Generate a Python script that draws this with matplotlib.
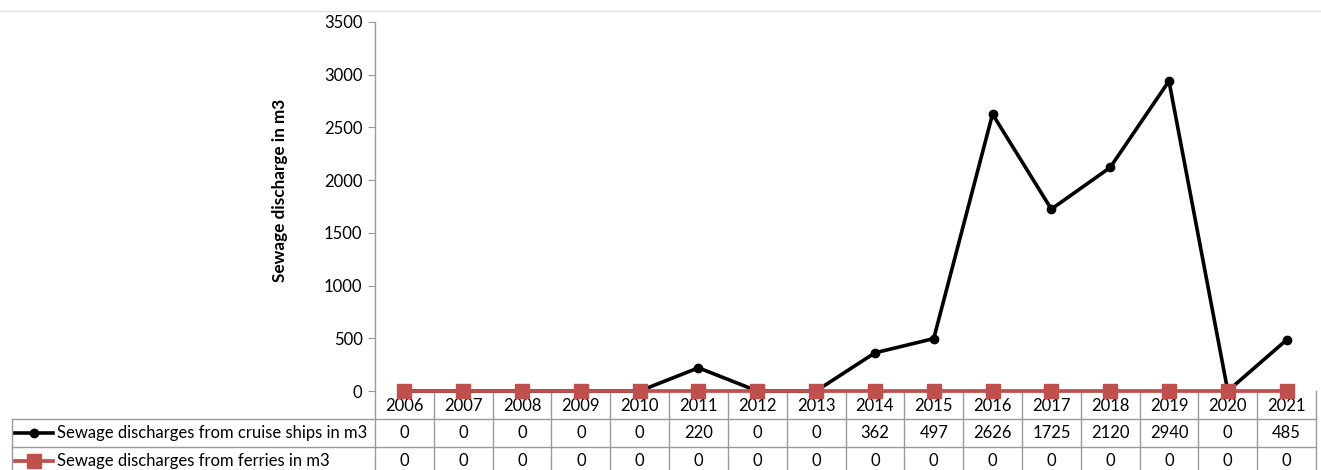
import matplotlib.pyplot as plt
from matplotlib.lines import Line2D
from matplotlib.transforms import blended_transform_factory

plt.rcParams['font.family'] = ['Lato', 'DejaVu Sans']

years = [2006, 2007, 2008, 2009, 2010, 2011, 2012, 2013,
         2014, 2015, 2016, 2017, 2018, 2019, 2020, 2021]
cruise = [0, 0, 0, 0, 0, 220, 0, 0, 362, 497, 2626, 1725, 2120, 2940, 0, 485]
ferries = [0] * 16
series_names = ['Sewage discharges from cruise ships in m3',
                'Sewage discharges from ferries in m3']

W, H = 1321, 470
fig = plt.figure(figsize=(W / 100, H / 100), dpi=100)

# plot area in pixel terms
x0, x1, ytop, ybot = 375, 1316, 22, 391
ax = fig.add_axes([x0 / W, 1 - ybot / H, (x1 - x0) / W, (ybot - ytop) / H])

red = '#C0504D'
grid_c = '#9a9a9a'
fs = 12
xs = list(range(len(years)))

ax.plot(xs, cruise, color='black', lw=2.6, marker='o', ms=6, zorder=3,
        clip_on=False)
ax.plot(xs, ferries, color=red, lw=2.7, marker='s', ms=10, zorder=4,
        clip_on=False)

ax.set_xlim(-0.5, len(years) - 0.5)
ax.set_ylim(0, 3500)
ax.set_yticks(range(0, 3501, 500))
ax.set_xticks([])
for s in ['top', 'right', 'bottom']:
    ax.spines[s].set_visible(False)
ax.spines['left'].set_color(grid_c)
ax.spines['left'].set_linewidth(1.0)
ax.tick_params(axis='y', length=5, color=grid_c, labelsize=fs, pad=4)
ax.set_ylabel('Sewage discharge in m3', fontsize=12.3, fontweight='bold')
ax.yaxis.set_label_coords((288 - x0) / (x1 - x0), (ybot - 190) / (ybot - ytop))

# data table under the axis
row_h = 28 / (ybot - ytop)
tr = blended_transform_factory(ax.transData, ax.transAxes)
left_ax = (12 - x0) / (x1 - x0)  # table left edge in axes coords
n = len(years)

def hline(y, xa, xb):
    ax.plot([xa, xb], [y, y], color=grid_c, lw=1.0, transform=ax.transAxes,
            clip_on=False, zorder=1)

def vline(xd, ya, yb):
    ax.plot([xd, xd], [ya, yb], color=grid_c, lw=1.0, transform=tr,
            clip_on=False, zorder=1)

hline(-row_h, left_ax, 1)
hline(-2 * row_h, left_ax, 1)
hline(-3 * row_h, left_ax, 1)
for i in range(n + 1):
    vline(i - 0.5, 0, -3.2 * row_h)
ax.plot([left_ax, left_ax], [-row_h, -3.2 * row_h], color=grid_c, lw=1.0,
        transform=ax.transAxes, clip_on=False)

for i, yr in enumerate(years):
    ax.text(i, -0.52 * row_h, str(yr), ha='center', va='center', fontsize=fs,
            transform=tr)
    ax.text(i, -1.5 * row_h, str(cruise[i]), ha='center', va='center',
            fontsize=fs, transform=tr)
    ax.text(i, -2.5 * row_h, str(ferries[i]), ha='center', va='center',
            fontsize=fs, transform=tr)

# legend keys inside the table rows
styles = [dict(color='black', lw=2.6, marker='o', ms=6),
          dict(color=red, lw=2.7, marker='s', ms=10)]
for k, (name, st) in enumerate(zip(series_names, styles)):
    yc = 1 - (ybot + (k + 1.5) * 28) / H
    fig.add_artist(Line2D([15 / W, 53 / W], [yc, yc], transform=fig.transFigure,
                          color=st['color'], lw=st['lw']))
    fig.add_artist(Line2D([34 / W], [yc], transform=fig.transFigure,
                          color=st['color'], marker=st['marker'], ms=st['ms'],
                          lw=0))
    fig.text(57 / W, yc, name, ha='left', va='center', fontsize=fs)

# thin page rule along the top
fig.add_artist(Line2D([0, 1], [1 - 11 / H, 1 - 11 / H], color='#e0e0e0',
                      lw=1.0, transform=fig.transFigure))

fig.savefig('out.png', dpi=100)
